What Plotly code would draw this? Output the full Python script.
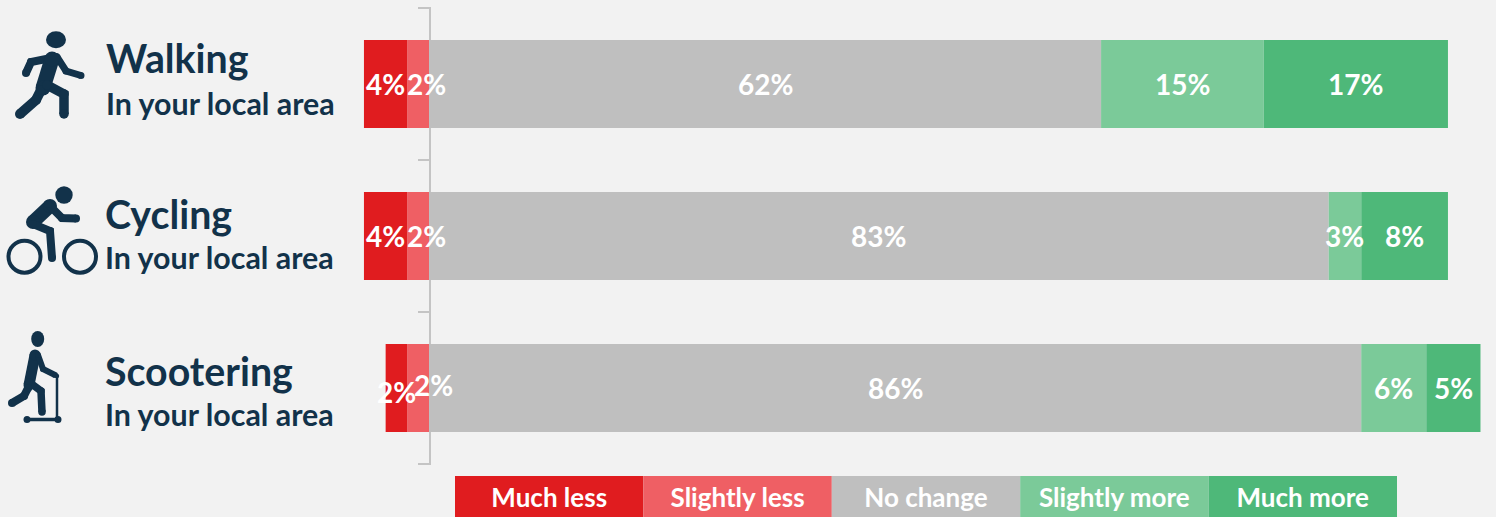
import plotly.graph_objects as go

W, H = 1496, 517
activities = ["Walking", "Cycling", "Scootering"]
rows = [0, 1, 2]
row_edges = [-0.5, 0.5, 1.5, 2.5]
subtitle = "In your local area"
responses = ["Much less", "Slightly less", "No change", "Slightly more", "Much more"]
much_less = [4, 4, 2]
slightly_less = [2, 2, 2]
no_change = [62, 83, 86]
slightly_more = [15, 3, 6]
much_more = [17, 8, 5]
legend_swatch = [1, 1, 1, 1, 1]

RED, LRED, GREY, LGREEN, GREEN = "#e01c1f", "#ef5f64", "#bfbfbf", "#7bca99", "#4eb879"
BG, INK, AXIS = "#f2f2f2", "#12324a", "#c4c4c4"
FONT = "Lato"
PX = 10.84    # pixels per percentage point
ZERO = 429    # pixel of 0 %

fig = go.Figure()
for vals, sign, col, name in [
    (slightly_less, -1, LRED, responses[1]),
    (much_less, -1, RED, responses[0]),
    (no_change, 1, GREY, responses[2]),
    (slightly_more, 1, LGREEN, responses[3]),
    (much_more, 1, GREEN, responses[4]),
]:
    fig.add_trace(go.Bar(y=rows, x=[sign * v for v in vals], orientation="h", name=name,
                         width=88 / 152, marker=dict(color=col, line=dict(width=0)),
                         customdata=activities, hovertemplate="%{customdata}: %{x}%<extra>" + name + "</extra>",
                         showlegend=False))

fig.add_trace(go.Bar(x=responses, y=legend_swatch, xaxis="x2", yaxis="y2", width=1,
                     marker=dict(color=[RED, LRED, GREY, LGREEN, GREEN], line=dict(width=0)),
                     text=responses, textposition="inside", insidetextanchor="middle",
                     textangle=0, constraintext="none",
                     textfont=dict(family=FONT, size=26, color="white", weight="bold"),
                     showlegend=False, hoverinfo="x"))

ann = []
def label(x, y, text, xshift=0, yshift=0):
    ann.append(dict(x=x, y=y, xref="x", yref="y", text=f"<b>{text}%</b>", showarrow=False,
                    xshift=xshift, yshift=yshift, xanchor="center", yanchor="middle",
                    font=dict(family=FONT, size=28, color="white")))

small_shift = {  # label nudges, px: (much less, slightly less)
    "Walking": ((0, 0), (8, 0)),
    "Cycling": ((0, 0), (8, 0)),
    "Scootering": ((0, -4), (15, 3)),
}
for i, a in enumerate(activities):
    ms, ss = small_shift[a]
    label(-(slightly_less[i] + much_less[i] / 2), i, much_less[i], ms[0], ms[1])
    label(-slightly_less[i] / 2, i, slightly_less[i], ss[0], ss[1])
    label(no_change[i] / 2, i, no_change[i])
    label(no_change[i] + slightly_more[i] / 2, i, slightly_more[i])
    label(no_change[i] + slightly_more[i] + much_more[i] / 2, i, much_more[i])

# left-hand titles
def px_text(x, y, text, size):
    ann.append(dict(x=x / W, y=1 - y / H, xref="paper", yref="paper", text=f"<b>{text}</b>",
                    showarrow=False, xanchor="left", yanchor="middle", xshift=-2,
                    font=dict(family=FONT, size=size, color=INK)))

for a, x, y1, y2 in [("Walking", 106, 57, 103), ("Cycling", 105, 213, 257), ("Scootering", 105, 370, 414)]:
    px_text(x, y1, a, 39.3)
    px_text(x, y2, subtitle, 30.4)

# icons, drawn in pixel space
shapes = []
def X(x): return x / W
def Y(y): return 1 - y / H
def disc(cx, cy, rx, ry=None, fill=INK, line=None):
    ry = rx if ry is None else ry
    shapes.append(dict(type="circle", xref="paper", yref="paper", x0=X(cx - rx), x1=X(cx + rx),
                       y0=Y(cy + ry), y1=Y(cy - ry), fillcolor=fill,
                       line=dict(width=line or 0, color=INK)))
def limb(points, w):
    path = " ".join(("M" if i == 0 else "L") + f"{X(p[0]):.5f},{Y(p[1]):.5f}" for i, p in enumerate(points))
    shapes.append(dict(type="path", xref="paper", yref="paper", path=path,
                       line=dict(width=w, color=INK), fillcolor="rgba(0,0,0,0)"))
    for p in points:
        disc(p[0], p[1], w / 2)

# walker
disc(56, 39.7, 10, 8.5)
limb([(56, 57), (31, 62), (26, 73)], 8)
limb([(57, 57), (66, 71), (81, 75.5)], 7)
limb([(52, 59), (43, 88)], 15)
limb([(41, 90), (36, 100), (20, 114)], 10)
limb([(47, 85), (64, 94), (64, 114)], 9.5)
# cyclist
disc(64, 195, 8.7)
limb([(50, 206), (33, 222)], 14)
limb([(48, 204), (62, 218), (76, 218.5)], 8)
limb([(33, 224), (50, 231), (52, 258)], 8)
disc(24.5, 256.7, 16, fill=BG, line=4)
disc(80, 256.7, 16, fill=BG, line=4)
# scooter rider
disc(37.7, 339, 6.5, 8)
limb([(35, 355), (29, 385)], 11)
limb([(38, 355), (43, 369), (55, 375)], 6)
limb([(29, 382), (41, 391), (42, 412)], 7.5)
limb([(28, 388), (24, 396), (12, 403)], 8)
limb([(57, 376), (57, 418)], 2.5)
limb([(27, 419.5), (58, 419.5)], 3.5)
disc(27, 419.5, 3.5)
disc(58, 419.5, 3.5)
disc(57, 376, 2.2)

fig.update_layout(
    width=W, height=H, autosize=False, margin=dict(l=0, r=0, t=0, b=0),
    paper_bgcolor=BG, plot_bgcolor=BG, barmode="relative", showlegend=False,
    annotations=ann, shapes=shapes,
    xaxis=dict(domain=[0, 1], range=[-ZERO / PX, (W - ZERO) / PX], visible=False, fixedrange=True),
    yaxis=dict(domain=[1 - 465 / H, 1 - 7 / H], range=[2.5 + 1 / 152, -0.5 - 1 / 152], anchor="free",
               position=430 / W, showticklabels=False, ticks="outside", tickmode="array",
               tickvals=row_edges, ticklen=11, tickwidth=2, tickcolor=AXIS,
               showline=True, linewidth=2, linecolor=AXIS,
               showgrid=False, zeroline=False, layer="below traces", fixedrange=True),
    xaxis2=dict(domain=[455 / W, 1397 / W], anchor="y2", type="category", categoryorder="array",
                categoryarray=responses, range=[-0.5, 4.5], visible=False, fixedrange=True),
    yaxis2=dict(domain=[0, 41 / H], anchor="x2", range=[0, 1], visible=False, fixedrange=True),
)
fig.write_html("out.html", config=dict(displayModeBar=False),
               post_script="document.body.style.margin='0';document.body.style.overflow='hidden';document.body.style.background='#f2f2f2';")
